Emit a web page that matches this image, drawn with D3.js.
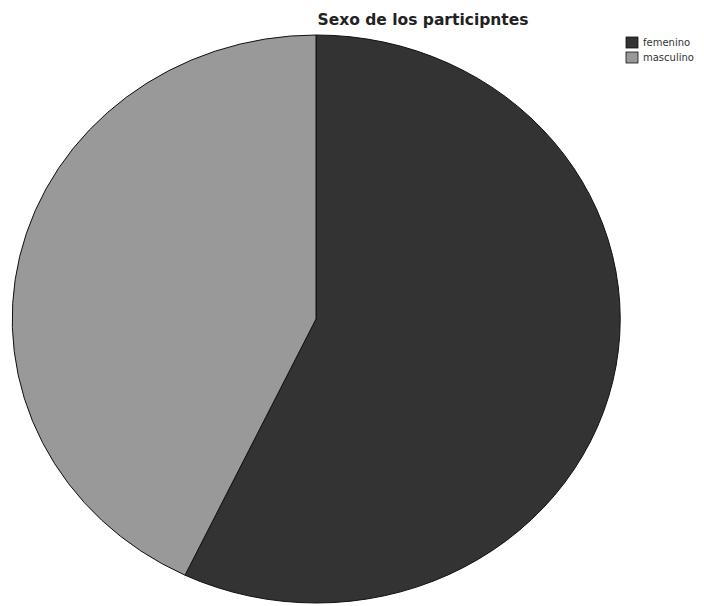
<!DOCTYPE html>
<html><head><meta charset="utf-8">
<script src="https://cdn.jsdelivr.net/npm/d3@7"></script>
<style>body{margin:0;background:#fff}</style>
</head><body>
<script>
const categories = ["femenino", "masculino"];
const values = [57.1, 42.9];
const colors = ["#333333", "#999999"];
const title = "Sexo de los participntes";

const W = 704, H = 606;
const svg = d3.select("body").append("svg").attr("width", W).attr("height", H)
  .style("font-family", "'DejaVu Sans', Verdana, sans-serif");

const cx = 316, cy = 319, rx = 304, ry = 284;
const pie = d3.pie().sort(null).value(d => d)(values);
const arc = d3.arc().innerRadius(0).outerRadius(1);
const g = svg.append("g").attr("transform", `translate(${cx},${cy}) scale(${rx},${ry})`);
g.selectAll("path").data(pie).join("path")
  .attr("d", arc)
  .attr("fill", (d, i) => colors[i])
  .attr("stroke", "#111")
  .attr("stroke-width", 1)
  .attr("vector-effect", "non-scaling-stroke");

svg.append("text").attr("x", 423).attr("y", 25).attr("text-anchor", "middle")
  .attr("font-size", 15.5).attr("font-weight", "bold").attr("fill", "#222").text(title);

const leg = svg.append("g").attr("transform", "translate(626,37)");
const li = leg.selectAll("g").data(categories).join("g")
  .attr("transform", (d, i) => `translate(0,${i * 15})`);
li.append("rect").attr("width", 12).attr("height", 11)
  .attr("fill", (d, i) => colors[i]).attr("stroke", "#111").attr("stroke-width", 0.8);
li.append("text").attr("x", 17).attr("y", 9).attr("font-size", 10).attr("fill", "#333").text(d => d);
</script>
</body></html>
